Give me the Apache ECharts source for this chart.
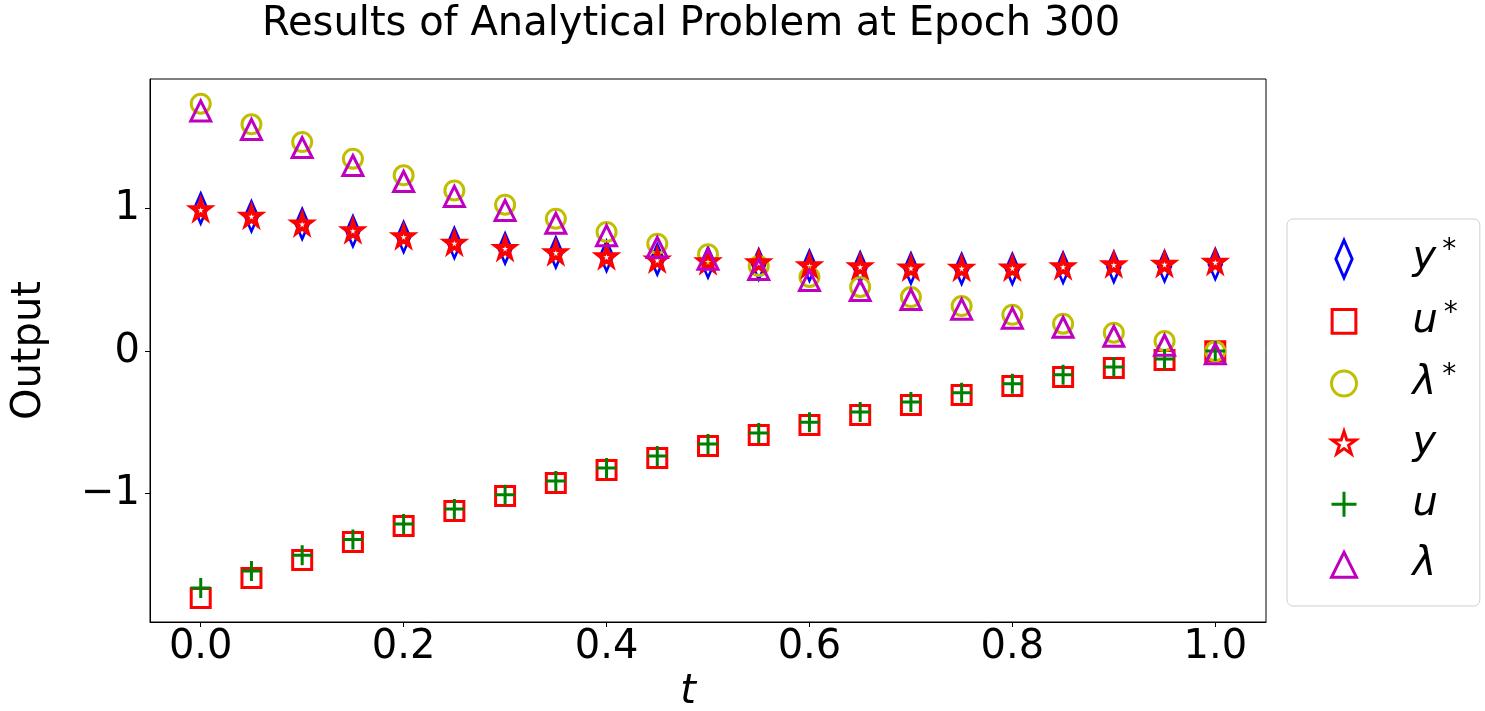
<!DOCTYPE html>
<html>
<head>
<meta charset="utf-8">
<title>Results of Analytical Problem at Epoch 300</title>
<script src="https://cdn.jsdelivr.net/npm/echarts@6/dist/echarts.min.js"></script>
<style>
  html, body { margin: 0; padding: 0; background: #fff; }
  #main { width: 1485px; height: 711px; }
</style>
</head>
<body>
<div id="main"></div>
<script type="text/javascript">
// time points
var tVals = [0, 0.05, 0.1, 0.15, 0.2, 0.25, 0.3, 0.35, 0.4, 0.45, 0.5,
             0.55, 0.6, 0.65, 0.7, 0.75, 0.8, 0.85, 0.9, 0.95, 1.0];
// analytical solution
var yStar = [1.002, 0.947, 0.893, 0.842, 0.801, 0.759, 0.721, 0.693, 0.668, 0.644, 0.622,
             0.609, 0.599, 0.588, 0.581, 0.577, 0.577, 0.585, 0.591, 0.596, 0.611];
var uStar = [-1.731, -1.592, -1.465, -1.339, -1.227, -1.121, -1.016, -0.925, -0.834, -0.750, -0.665,
             -0.588, -0.518, -0.448, -0.378, -0.307, -0.244, -0.181, -0.118, -0.062, 0.0];
var lamStar = [1.737, 1.592, 1.468, 1.351, 1.234, 1.128, 1.028, 0.930, 0.837, 0.754, 0.681,
               0.598, 0.521, 0.451, 0.380, 0.317, 0.256, 0.193, 0.130, 0.072, 0.0];
// network output
var yNet = [0.995, 0.949, 0.895, 0.848, 0.806, 0.761, 0.724, 0.693, 0.665, 0.642, 0.630,
            0.623, 0.602, 0.595, 0.586, 0.584, 0.586, 0.595, 0.609, 0.612, 0.626];
var uNet = [-1.662, -1.543, -1.432, -1.321, -1.212, -1.107, -1.008, -0.911, -0.819, -0.736, -0.651,
            -0.573, -0.498, -0.426, -0.356, -0.292, -0.229, -0.166, -0.111, -0.055, 0.002];
var lamNet = [1.686, 1.556, 1.429, 1.303, 1.191, 1.086, 0.988, 0.898, 0.811, 0.728, 0.646,
              0.574, 0.497, 0.426, 0.363, 0.295, 0.232, 0.168, 0.105, 0.042, -0.018];
// axis ticks
var xTicks = [0, 0.2, 0.4, 0.6, 0.8, 1.0];
var yTicks = [-1, 0, 1];

var FONT = 'DejaVu Sans';
// marker shapes (the legend ones carry two invisible move-to points so all icons share a 20x30 frame)
var thinDiamond = 'path://M0,-15L6.5,0L0,15L-6.5,0Z';
var star = 'path://M0,-1L0.2245,-0.309L0.951,-0.309L0.363,0.118L0.588,0.809L0,0.382L-0.588,0.809L-0.363,0.118L-0.951,-0.309L-0.2245,-0.309Z';
var plus = 'path://M0,-1L0,1M-1,0L1,0';
var legIcons = {
  'y*': 'path://M-10,-15M10,15M0,-15L6.5,0L0,15L-6.5,0Z',
  'u*': 'path://M-10,-15M10,15M-9.5,-9.5L9.5,-9.5L9.5,9.5L-9.5,9.5Z',
  'λ*': 'circle',
  'y': 'path://M-10,-15M10,15M0,-10L2.25,-3.09L9.51,-3.09L3.63,1.18L5.88,8.09L0,3.82L-5.88,8.09L-3.63,1.18L-9.51,-3.09L-2.25,-3.09Z',
  'u': 'path://M-10,-15M10,15M0,-10L0,10M-10,0L10,0',
  'λ': 'path://M-10,-15M10,15M0,-10L10,10L-10,10Z'
};

function pts(arr) {
  return tVals.map(function (t, i) { return [t, arr[i]]; });
}

function mk(name, data, symbol, size, color, bw, z) {
  return {
    name: name,
    type: 'scatter',
    data: pts(data),
    symbol: symbol,
    symbolSize: size,
    z: z,
    itemStyle: { color: 'rgba(0,0,0,0)', borderColor: color, borderWidth: bw, opacity: 1 },
    emphasis: { disabled: true }
  };
}

var legendText = {
  'y*': '{g| }{v|y}{s|*}',
  'u*': '{g| }{v|u}{s|*}',
  'λ*': '{g| }{v|λ}{s|*}',
  'y': '{g| }{v|y}',
  'u': '{g| }{v|u}',
  'λ': '{g| }{v|λ}'
};
var legendNames = ['y*', 'u*', 'λ*', 'y', 'u', 'λ'];

var myChart = echarts.init(document.getElementById('main'));
var option = {
  animation: false,
  backgroundColor: '#fff',
  title: {
    text: 'Results of Analytical Problem at Epoch 300',
    left: 257,
    top: 0,
    textStyle: { fontFamily: FONT, fontSize: 40, fontWeight: 'normal', color: '#000' }
  },
  grid: {
    left: 150, top: 79, right: 219, bottom: 89,
    outerBoundsMode: 'none',
    containLabel: false,
    show: true, borderColor: '#000', borderWidth: 1, backgroundColor: '#fff'
  },
  xAxis: {
    type: 'value',
    min: -0.05, max: 1.05,
    name: 't',
    nameLocation: 'middle',
    nameGap: 31,
    nameTextStyle: { fontFamily: FONT, fontSize: 40, fontStyle: 'italic', color: '#000', padding: [0, 40, 0, 0] },
    axisLine: { onZero: false, lineStyle: { color: '#000', width: 1 } },
    axisTick: { length: 5, lineStyle: { color: '#000' }, customValues: xTicks },
    axisLabel: {
      fontFamily: FONT, fontSize: 40, color: '#000', margin: 6,
      customValues: xTicks,
      formatter: function (v) { return v.toFixed(1); }
    },
    splitLine: { show: false }
  },
  yAxis: {
    type: 'value',
    min: -1.90, max: 1.91,
    name: 'Output',
    nameLocation: 'middle',
    nameRotate: 90,
    nameGap: 100,
    nameTextStyle: { fontFamily: FONT, fontSize: 40, color: '#000' },
    axisLine: { onZero: false, lineStyle: { color: '#000', width: 1 } },
    axisTick: { length: 5, lineStyle: { color: '#000' }, customValues: yTicks },
    axisLabel: {
      fontFamily: FONT, fontSize: 40, color: '#000', margin: 10,
      customValues: yTicks,
      formatter: function (v) { return v < 0 ? '\u2212' + Math.abs(v) : String(v); }
    },
    splitLine: { show: false }
  },
  legend: {
    orient: 'vertical',
    left: 1287,
    top: 219,
    padding: [18, 22, 21, 43],
    itemWidth: 25,
    itemHeight: 37.5,
    itemGap: 20,
    selectedMode: false,
    backgroundColor: '#fff',
    borderColor: '#d0d0d0',
    borderWidth: 1,
    borderRadius: 6,
    itemStyle: { borderWidth: 3 },
    data: legendNames.map(function (n) { return { name: n, icon: legIcons[n] }; }),
    formatter: function (name) { return legendText[name]; },
    textStyle: {
      color: '#000',
      rich: {
        g: { width: 51, fontSize: 10 },
        v: { fontFamily: FONT, fontStyle: 'italic', fontSize: 40, lineHeight: 44, color: '#000' },
        s: { fontFamily: FONT, fontSize: 28, lineHeight: 24, verticalAlign: 'top', padding: [0, 0, 0, 6], color: '#000' }
      }
    }
  },
  series: [
    mk('y*', yStar, thinDiamond, [13, 30], '#0000ff', 3, 2),
    mk('u*', uStar, 'rect', 19, '#ff0000', 3, 3),
    mk('λ*', lamStar, 'circle', 19, '#bfbf00', 3, 4),
    mk('y', yNet, star, 18, '#ff0000', 4, 5),
    mk('u', uNet, plus, 20, '#008000', 3, 6),
    mk('λ', lamNet, 'triangle', 20, '#bf00bf', 3, 7)
  ]
};
myChart.setOption(option);
</script>
</body>
</html>
